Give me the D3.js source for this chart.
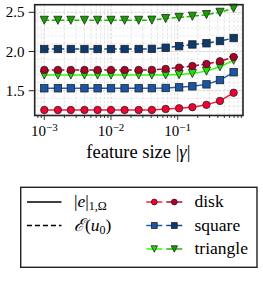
<!DOCTYPE html>
<html>
<head>
<meta charset="utf-8">
<script src="https://cdn.jsdelivr.net/npm/d3@7"></script>
<style>
  body { margin: 0; background: #fff; }
  svg { display: block; }
</style>
</head>
<body>
<svg id="chart" width="263" height="288" font-family="Liberation Serif"></svg>
<script>
// feature sizes |gamma| (x)
const sizes = [0.001, 0.0016, 0.0025, 0.004, 0.0063, 0.01, 0.016, 0.026, 0.041, 0.066, 0.105, 0.166, 0.27, 0.43, 0.69];

// solid lines: |e|_{1,Omega}
const diskErr = [1.254, 1.254, 1.254, 1.254, 1.254, 1.254, 1.254, 1.254, 1.255, 1.267, 1.276, 1.29, 1.32, 1.37, 1.474];
const squareErr = [1.531, 1.531, 1.531, 1.531, 1.531, 1.531, 1.531, 1.531, 1.532, 1.535, 1.543, 1.556, 1.581, 1.636, 1.735];
const triangleErr = [1.70, 1.70, 1.70, 1.70, 1.70, 1.70, 1.70, 1.70, 1.70, 1.701, 1.706, 1.72, 1.75, 1.805, 1.888];

// dashed lines: E(u0)
const diskEst = [1.765, 1.765, 1.765, 1.765, 1.765, 1.765, 1.765, 1.765, 1.766, 1.778, 1.795, 1.815, 1.841, 1.875, 1.93];
const squareEst = [2.032, 2.032, 2.032, 2.032, 2.032, 2.032, 2.032, 2.032, 2.034, 2.048, 2.068, 2.09, 2.105, 2.134, 2.172];
const triangleEst = [2.398, 2.398, 2.398, 2.398, 2.398, 2.398, 2.398, 2.398, 2.40, 2.42, 2.435, 2.45, 2.47, 2.50, 2.552];

const yTicks = [1.5, 2.0, 2.5];
const xTicks = [1e-3, 1e-2, 1e-1];
const shapes = ["disk", "square", "triangle"];

const svg = d3.select("#chart");

const pLeft = 34.7, pRight = 243, pTop = 4.7, pBottom = 115.5;

const x = d3.scaleLog().domain([0.000718, 0.953]).range([pLeft, pRight]);
const y = d3.scaleLinear().domain([1.184, 2.597]).range([pBottom, pTop]);

// grid
const minor = [];
for (let e = -4; e <= 0; e++) {
  for (let m = 1; m < 10; m++) {
    const v = m * Math.pow(10, e);
    if (v > x.domain()[0] && v < x.domain()[1]) minor.push(v);
  }
}
svg.append("g")
  .selectAll("line")
  .data(minor)
  .join("line")
  .attr("x1", (d) => x(d)).attr("x2", (d) => x(d))
  .attr("y1", pTop).attr("y2", pBottom)
  .attr("stroke", (d) => xTicks.includes(d) ? "#c8c8c8" : "#dcdcdc")
  .attr("stroke-width", 0.8)
  .attr("stroke-dasharray", "2.5,1.5");

svg.append("g")
  .selectAll("line")
  .data(d3.range(12, 26).map((d) => d / 10))
  .join("line")
  .attr("x1", pLeft).attr("x2", pRight)
  .attr("y1", (d) => y(d)).attr("y2", (d) => y(d))
  .attr("stroke", (d) => yTicks.includes(d) ? "#c8c8c8" : "#e4e4e4")
  .attr("stroke-width", 0.8)
  .attr("stroke-dasharray", "2.5,1.5");

// series
const series = [
  { vals: diskErr, line: "#ff1a40", fill: "#f50032", shape: "disk", dash: null },
  { vals: squareErr, line: "#2060b0", fill: "#1a56a6", shape: "square", dash: null },
  { vals: triangleErr, line: "#2cff00", fill: "#22e000", shape: "triangle", dash: null },
  { vals: diskEst, line: "#c0002a", fill: "#b0002a", shape: "disk", dash: "5,2.5" },
  { vals: squareEst, line: "#154a8a", fill: "#0e3a72", shape: "square", dash: "5,2.5" },
  { vals: triangleEst, line: "#20b800", fill: "#18a000", shape: "triangle", dash: "5,2.5" },
];

function drawMarker(g, shape, fill, size) {
  if (shape === "disk") {
    g.append("circle").attr("r", size).attr("fill", fill);
  } else if (shape === "square") {
    g.append("rect").attr("x", -size).attr("y", -size)
      .attr("width", 2 * size).attr("height", 2 * size).attr("fill", fill);
  } else {
    const s = size * 1.1;
    g.append("path").attr("d", `M${-s},${-s}L${s},${-s}L0,${s}Z`).attr("fill", fill);
  }
  g.selectAll("*").attr("stroke", "#222").attr("stroke-width", 0.8);
}

const line = d3.line().x((d, i) => x(sizes[i])).y((d) => y(d));

for (const s of series) {
  svg.append("path")
    .datum(s.vals)
    .attr("d", line)
    .attr("fill", "none")
    .attr("stroke", s.line)
    .attr("stroke-width", 1.5)
    .attr("stroke-dasharray", s.dash);
  s.vals.forEach((v, i) => {
    const g = svg.append("g").attr("transform", `translate(${x(sizes[i])},${y(v)})`);
    drawMarker(g, s.shape, s.fill, 3.7);
  });
}

// frame
svg.append("rect")
  .attr("x", pLeft).attr("y", pTop)
  .attr("width", pRight - pLeft).attr("height", pBottom - pTop)
  .attr("fill", "none").attr("stroke", "#222").attr("stroke-width", 1.6);

// y axis
const yAxis = svg.append("g");
yAxis.selectAll("line")
  .data(yTicks)
  .join("line")
  .attr("x1", pLeft - 6).attr("x2", pLeft)
  .attr("y1", (d) => y(d)).attr("y2", (d) => y(d))
  .attr("stroke", "#222").attr("stroke-width", 1);
yAxis.selectAll("text")
  .data(yTicks)
  .join("text")
  .attr("x", 24.5).attr("y", (d) => y(d) + 5)
  .attr("text-anchor", "end")
  .attr("font-size", 15)
  .text((d) => d.toFixed(1));

// x axis
const xAxis = svg.append("g");
xAxis.selectAll("line")
  .data(minor)
  .join("line")
  .attr("x1", (d) => x(d)).attr("x2", (d) => x(d))
  .attr("y1", pBottom)
  .attr("y2", (d) => pBottom + (xTicks.includes(d) ? 4.5 : 2.5))
  .attr("stroke", "#222").attr("stroke-width", 0.9);

const xl = xAxis.selectAll("text")
  .data(xTicks)
  .join("text")
  .attr("x", (d) => x(d)).attr("y", 136)
  .attr("text-anchor", "middle")
  .attr("font-size", 15);
xl.append("tspan").text("10");
xl.append("tspan").attr("dy", -5.5).attr("font-size", 11)
  .text((d) => "\u2212" + Math.round(-Math.log10(d)));

const xt = svg.append("text")
  .attr("x", (pLeft + pRight) / 2 - 0.5).attr("y", 157.5)
  .attr("text-anchor", "middle")
  .attr("font-size", 18.5);
xt.append("tspan").text("feature size |");
xt.append("tspan").attr("font-style", "italic").text("\u03b3");
xt.append("tspan").text("|");

// legend
const lg = svg.append("g");
lg.append("rect")
  .attr("x", 20.7).attr("y", 187.3)
  .attr("width", 236.3).attr("height", 80)
  .attr("fill", "#fff").attr("stroke", "#222").attr("stroke-width", 1.4);

const rows = [202, 225.5, 249];

lg.append("line").attr("x1", 27).attr("x2", 61.5).attr("y1", rows[0]).attr("y2", rows[0])
  .attr("stroke", "#000").attr("stroke-width", 1.4);
lg.append("line").attr("x1", 27).attr("x2", 61.5).attr("y1", rows[1]).attr("y2", rows[1])
  .attr("stroke", "#000").attr("stroke-width", 1.4).attr("stroke-dasharray", "5,3");

const t1 = lg.append("text").attr("x", 74).attr("y", rows[0] + 5).attr("font-size", 17.5);
t1.append("tspan").text("|");
t1.append("tspan").attr("font-style", "italic").text("e");
t1.append("tspan").text("|");
t1.append("tspan").attr("font-size", 12).attr("dy", 3).text("1,\u03a9");

const t2 = lg.append("text").attr("x", 74).attr("y", rows[1] + 5).attr("font-size", 17.5);
t2.append("tspan").attr("font-style", "italic").text("\u2130");
t2.append("tspan").text("(");
t2.append("tspan").attr("font-style", "italic").text("u");
t2.append("tspan").attr("font-size", 12).attr("dy", 3).text("0");
t2.append("tspan").attr("dy", -3).text(")");

shapes.forEach((name, r) => {
  const yy = rows[r];
  [series[r], series[r + 3]].forEach((s, j) => {
    const cx = j === 0 ? 154.3 : 174.3;
    lg.append("line").attr("x1", cx - 8).attr("x2", cx + 8).attr("y1", yy).attr("y2", yy)
      .attr("stroke", s.line).attr("stroke-width", 1.5);
    const g = lg.append("g").attr("transform", `translate(${cx},${yy})`);
    drawMarker(g, s.shape, s.fill, 2.9);
  });
  lg.append("text").attr("x", 194.5).attr("y", yy + 5).attr("font-size", 17.5).text(name);
});
</script>
</body>
</html>
